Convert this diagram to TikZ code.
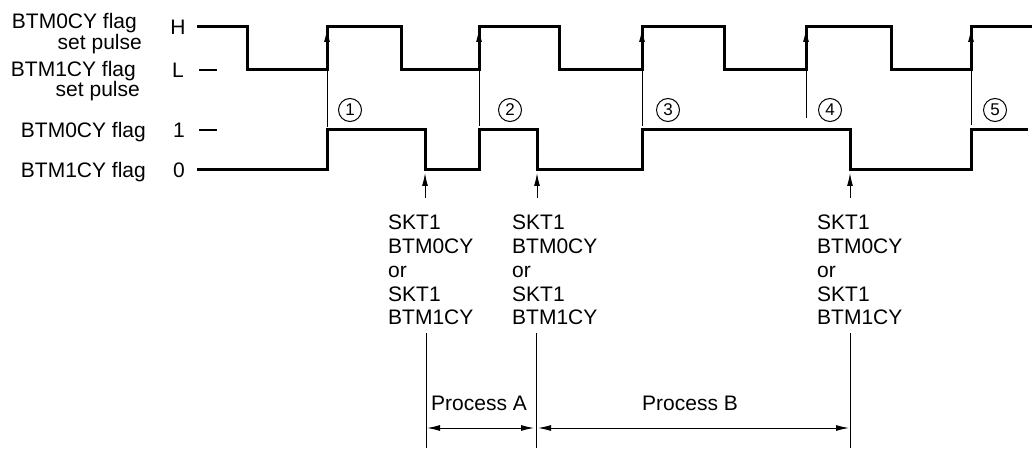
\documentclass[tikz,border=0pt]{standalone}
\usepackage{fontspec}
\setmainfont{Liberation Sans}
\usetikzlibrary{arrows.meta,positioning}

\begin{document}
\begin{tikzpicture}[x=1pt,y=-1pt,>={Latex[length=13pt,width=6pt]},
  wave/.style={line width=3pt,line join=miter},
  tline/.style={line width=1pt},
  lbl/.style={inner sep=0pt,font=\fontsize{21}{24}\selectfont},
  num/.style={draw,circle,line width=1pt,minimum size=23pt,inner sep=0pt,font=\fontsize{17}{17}\selectfont},
  blk/.style={inner sep=0pt,align=left,anchor=north west,font=\fontsize{21}{23.75}\selectfont}]
\useasboundingbox (0,0) rectangle (1033,449);
% signal names and levels
\node[lbl,anchor=base east] (n0a) at (137,28.5) {BTM0CY flag};
\node[lbl,anchor=base east] (n0b) at (142,49.5) {set pulse};
\node[lbl,anchor=base east] (n1a) at (136,76.5) {BTM1CY flag};
\node[lbl,anchor=base east] (n1b) at (140,97) {set pulse};
\node[lbl,anchor=base east] (f0) at (146,138) {BTM0CY flag};
\node[lbl,anchor=base east] (f1) at (146,178) {BTM1CY flag};
\node[lbl,anchor=base] (lvH) at (178,35) {H};
\node[lbl,anchor=base] (lvL) at (178,78) {L};
\node[lbl,anchor=base] (lv1) at (179,138) {1};
\node[lbl,anchor=base] (lv0) at (179,178) {0};
\draw[line width=1.5pt] (199,70) -- (217,70);
\draw[line width=1.5pt] (199,130) -- (217,130);
% set pulse
\draw[wave] (197,27) -- (247,27) -- (247,70) -- (327,70) -- (327,27) -- (401,27) -- (401,70)
  -- (479,70) -- (479,27) -- (559,27) -- (559,70) -- (642,70) -- (642,27) -- (724,27)
  -- (724,70) -- (806,70) -- (806,27) -- (891,27) -- (891,70) -- (971,70) -- (971,27) -- (1032,27);
% flag
\draw[wave] (197,170) -- (327,170) -- (327,130) -- (425,130) -- (425,170) -- (479,170)
  -- (479,130) -- (537,130) -- (537,170) -- (642,170) -- (642,130) -- (850,130) -- (850,170)
  -- (971,170) -- (971,130) -- (1028,130);
% set timings
\coordinate (s1) at (327,127); \coordinate (t1) at (327,29);
\coordinate (s2) at (479,126); \coordinate (t2) at (479,29);
\coordinate (s3) at (642,126); \coordinate (t3) at (642,29);
\coordinate (s4) at (806,118); \coordinate (t4) at (806,29);
\coordinate (s5) at (971,125); \coordinate (t5) at (971,29);
\draw[tline,->] (s1) -- (t1);
\draw[tline,->] (s2) -- (t2);
\draw[tline,->] (s3) -- (t3);
\draw[tline,->] (s4) -- (t4);
\draw[tline,->] (s5) -- (t5);
\node[num] (c1) at (350,110) {1};
\node[num] (c2) at (510,110) {2};
\node[num] (c3) at (668,110) {3};
\node[num] (c4) at (830,110) {4};
\node[num] (c5) at (995,110) {5};
% reset timings
\coordinate (u1) at (425,198); \coordinate (v1) at (425,173);
\coordinate (u2) at (537,198); \coordinate (v2) at (537,173);
\coordinate (u3) at (850,198); \coordinate (v3) at (850,173);
\draw[tline,->] (u1) -- (v1);
\draw[tline,->] (u2) -- (v2);
\draw[tline,->] (u3) -- (v3);
\node[blk] (k1) at (388,215) {SKT1\\BTM0CY\\or\\SKT1\\BTM1CY};
\node[blk] (k2) at (512,215) {SKT1\\BTM0CY\\or\\SKT1\\BTM1CY};
\node[blk] (k3) at (817,215) {SKT1\\BTM0CY\\or\\SKT1\\BTM1CY};
% processing intervals
\coordinate (p1) at (426,333); \coordinate (q1) at (426,448);
\coordinate (p2) at (536,333); \coordinate (q2) at (536,448);
\coordinate (p3) at (850,333); \coordinate (q3) at (850,448);
\draw[tline] (p1) -- (q1);
\draw[tline] (p2) -- (q2);
\draw[tline] (p3) -- (q3);
\coordinate (a1) at (427,428); \coordinate (b1) at (534,428);
\coordinate (a2) at (538,428); \coordinate (b2) at (849,428);
\draw[tline,<->] (a1) -- (b1);
\draw[tline,<->] (a2) -- (b2);
\node[lbl,anchor=base] (pa) at (479,410) {Process A};
\node[lbl,anchor=base] (pb) at (690,410) {Process B};
\end{tikzpicture}
\end{document}
